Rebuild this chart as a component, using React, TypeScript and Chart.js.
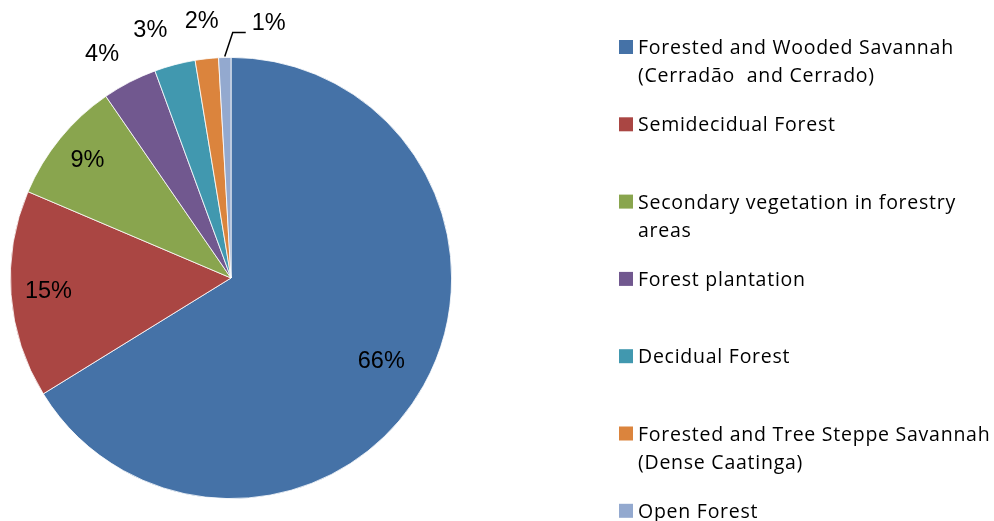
import { useEffect, useRef } from "react";
import { Chart, registerables } from "chart.js";

Chart.register(...registerables);

const categories: string[][] = [
  ["Forested and Wooded Savannah", "(Cerradão  and Cerrado)"],
  ["Semidecidual Forest"],
  ["Secondary vegetation in forestry", "areas"],
  ["Forest plantation"],
  ["Decidual Forest"],
  ["Forested and Tree Steppe Savannah", "(Dense Caatinga)"],
  ["Open Forest"],
];
const values = [66.2, 15.2, 9.0, 4.0, 3.0, 1.7, 0.9];
const colors = ["#4572A7", "#AA4643", "#89A54E", "#71588F", "#4198AF", "#DB843D", "#93A9CF"];

const labelRadius = [0.78, 0.83, 0.84, 1.17, 1.18, 1.17, 1.0];
const labelAngleShift = [0, 0, 0, -2.6, -3.3, -0.2, 0];

const pctFont = '23.5px "Liberation Sans", Arial, sans-serif';
const legendFont = '19.5px "Open Sans", sans-serif';

const labelPlugin = {
  id: "pctLabels",
  afterDatasetsDraw(chart: any) {
    const ctx = chart.ctx;
    const meta = chart.getDatasetMeta(0);
    const total = values.reduce((a, b) => a + b, 0);
    ctx.save();
    ctx.font = pctFont;
    ctx.fillStyle = "#000";
    ctx.textBaseline = "middle";
    ctx.textAlign = "center";
    meta.data.forEach((arc: any, i: number) => {
      const { x, y, startAngle, endAngle, outerRadius } = arc.getProps(
        ["x", "y", "startAngle", "endAngle", "outerRadius"],
        true
      );
      const mid = (startAngle + endAngle) / 2 + (labelAngleShift[i] * Math.PI) / 180;
      const txt = Math.round((values[i] / total) * 100) + "%";
      if (i === values.length - 1) {
        const p0x = x + Math.cos(mid) * (outerRadius + 1);
        const p0y = y + Math.sin(mid) * (outerRadius + 1);
        const p1x = p0x + 8;
        const p1y = p0y - 24;
        const p2x = p1x + 13;
        ctx.strokeStyle = "#000";
        ctx.lineWidth = 1.5;
        ctx.beginPath();
        ctx.moveTo(p0x, p0y);
        ctx.lineTo(p1x, p1y);
        ctx.lineTo(p2x, p1y);
        ctx.stroke();
        ctx.textAlign = "left";
        ctx.fillText(txt, p2x + 6, p1y - 9);
        ctx.textAlign = "center";
      } else {
        const r = outerRadius * labelRadius[i];
        ctx.fillText(txt, x + Math.cos(mid) * r, y + Math.sin(mid) * r);
      }
    });
    ctx.restore();
  },
};

const legendPlugin = {
  id: "customLegend",
  afterDraw(chart: any) {
    const ctx = chart.ctx;
    ctx.save();
    ctx.font = legendFont;
    try {
      (ctx as any).letterSpacing = "0.75px";
    } catch (e) {}
    ctx.textBaseline = "middle";
    ctx.textAlign = "left";
    const boxX = 619;
    const textX = 638;
    const startY = 47;
    const step = 77.3;
    const lineH = 28;
    categories.forEach((lines, i) => {
      const cy = startY + i * step;
      ctx.fillStyle = colors[i];
      ctx.fillRect(boxX, cy - 7, 14, 14);
      ctx.fillStyle = "#000";
      lines.forEach((ln, j) => {
        ctx.fillText(ln, textX, cy + 1.5 + j * lineH);
      });
    });
    ctx.restore();
  },
};

export default function App() {
  const ref = useRef<HTMLCanvasElement | null>(null);
  useEffect(() => {
    if (!ref.current) return;
    const chart = new Chart(ref.current, {
      type: "pie",
      data: {
        labels: categories.map((c) => c.join(" ")),
        datasets: [
          {
            data: values,
            backgroundColor: colors,
            borderColor: "#ffffff",
            borderWidth: 0.8,
          },
        ],
      },
      options: {
        animation: false,
        responsive: false,
        maintainAspectRatio: false,
        layout: { padding: { left: 10, top: 57, right: 542, bottom: 22 } },
        plugins: {
          legend: { display: false },
          tooltip: { enabled: false },
        },
      },
      plugins: [labelPlugin, legendPlugin],
    });
    return () => chart.destroy();
  }, []);
  return (
    <div style={{ position: "absolute", left: 0, top: 0, width: 994, height: 521, background: "#fff" }}>
      <canvas ref={ref} width={994} height={521} style={{ width: 994, height: 521 }} />
    </div>
  );
}
